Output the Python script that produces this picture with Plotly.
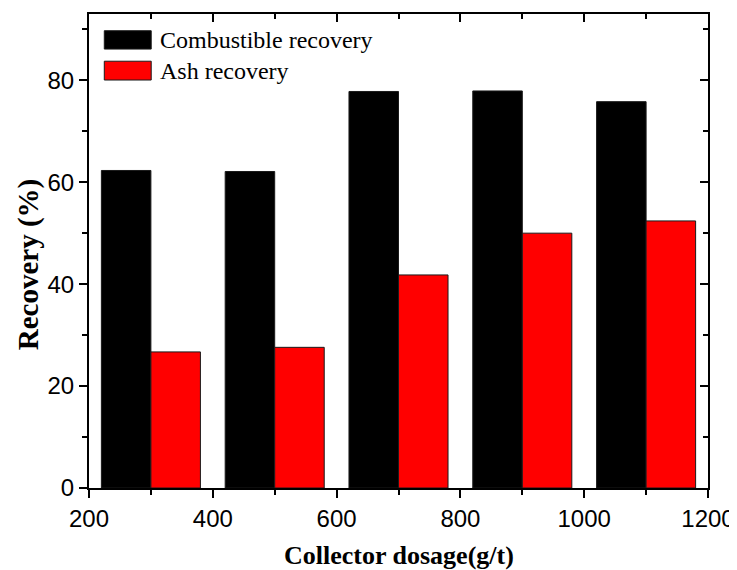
import plotly.graph_objects as go

dosage = [300, 500, 700, 900, 1100]
combustible_recovery = [62.3, 62.1, 77.8, 77.9, 75.8]
ash_recovery = [26.7, 27.6, 41.8, 50.0, 52.4]
series_names = ["Combustible recovery", "Ash recovery"]
series_colors = ["#000000", "#ff0000"]
x_ticks = [200, 400, 600, 800, 1000, 1200]
y_ticks = [0, 20, 40, 60, 80]
x_title = "Collector dosage(g/t)"
y_title = "Recovery (%)"

fig = go.Figure()
fig.add_trace(go.Bar(x=dosage, y=combustible_recovery, name=series_names[0],
                     marker=dict(color=series_colors[0], line=dict(color="#1a1a1a", width=1)),
                     showlegend=False))
fig.add_trace(go.Bar(x=dosage, y=ash_recovery, name=series_names[1],
                     marker=dict(color=series_colors[1], line=dict(color="#1a1a1a", width=1)),
                     showlegend=False))
# invisible trace so the mirrored (inside-tick) axes are drawn
fig.add_trace(go.Scatter(x=[None], y=[None], xaxis="x2", yaxis="y2", showlegend=False, hoverinfo="skip"))

tickfont = dict(family="Liberation Sans, Arial", size=24, color="black")
serif = "Liberation Serif, Times New Roman"

common = dict(ticklen=8, tickwidth=2, tickcolor="black", showline=True, linewidth=2,
              linecolor="black", showgrid=False, zeroline=False, automargin=False)

# the page body adds an 8 px offset, so the figure is 8 px smaller than the window
fig.update_layout(
    width=729, height=562,
    margin=dict(l=81, r=29, t=6, b=82),
    paper_bgcolor="white", plot_bgcolor="white",
    barmode="group", bargap=0.2, bargroupgap=0,
    xaxis=dict(range=[200, 1200], tickvals=x_ticks, ticks="outside", tickfont=tickfont,
               minor=dict(ticks="outside", ticklen=5, tickwidth=2, dtick=100, tick0=200, tickcolor="black"),
               **common),
    yaxis=dict(range=[0, 93], tickvals=y_ticks, ticks="outside", tickfont=tickfont,
               minor=dict(ticks="outside", ticklen=5, tickwidth=2, dtick=10, tick0=0, tickcolor="black"),
               **common),
    xaxis2=dict(overlaying="x", side="top", anchor="y2", range=[200, 1200], tickvals=x_ticks,
                ticks="inside", showticklabels=False,
                minor=dict(ticks="inside", ticklen=5, tickwidth=2, dtick=100, tick0=200, tickcolor="black"),
                **common),
    yaxis2=dict(overlaying="y", side="right", anchor="x2", range=[0, 93], tickvals=y_ticks,
                ticks="inside", showticklabels=False,
                minor=dict(ticks="inside", ticklen=5, tickwidth=2, dtick=10, tick0=0, tickcolor="black"),
                **common),
)

# axis titles
fig.add_annotation(xref="paper", yref="paper", x=0.5008, y=-0.142, text="<b>" + x_title + "</b>",
                   showarrow=False, xanchor="center", yanchor="middle",
                   font=dict(family=serif, size=26, color="black"))
fig.add_annotation(xref="paper", yref="paper", x=-0.0985, y=0.472, text="<b>" + y_title + "</b>",
                   showarrow=False, xanchor="center", yanchor="middle", textangle=-90,
                   font=dict(family=serif, size=29, color="black"))

# legend drawn as swatches + text
legend_rows = [(0.9647, 0.926, 0.945), (0.9004, 0.8607, 0.8807)]
for (y1, y0, yc), name, col in zip(legend_rows, series_names, series_colors):
    fig.add_shape(type="rect", xref="x domain", yref="y domain", x0=0.0247, x1=0.1005, y0=y0, y1=y1,
                  fillcolor=col, line=dict(color="#1a1a1a", width=1))
    fig.add_annotation(xref="x domain", yref="y domain", x=0.112, y=yc, text=name, showarrow=False,
                       xanchor="left", yanchor="middle",
                       font=dict(family=serif, size=24, color="black"))

fig.write_html("out.html")
